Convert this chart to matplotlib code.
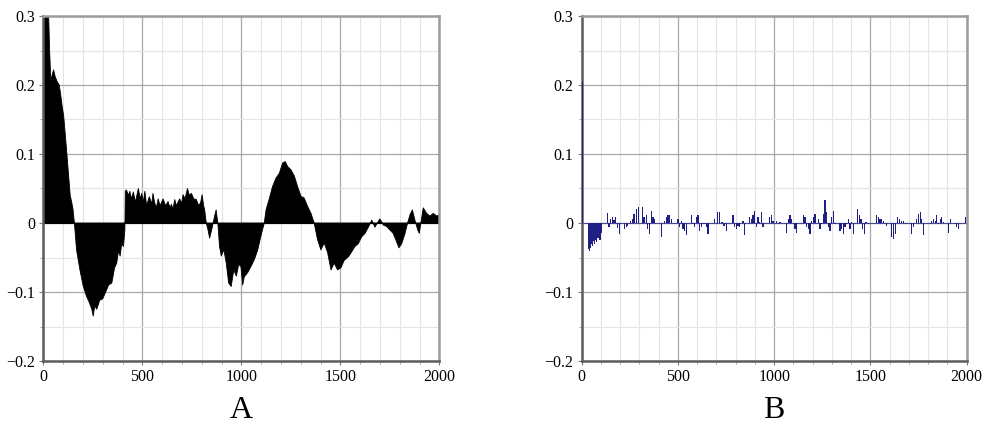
import matplotlib
matplotlib.use("Agg")
import matplotlib.pyplot as plt
from matplotlib.ticker import MultipleLocator, FixedLocator, FixedFormatter

# ---------------- data ----------------
panel_labels = ["A", "B"]
x_ticks = [0, 500, 1000, 1500, 2000]
x_tick_labels = ["0", "500", "1000", "1500", "2000"]
y_ticks = [-0.2, -0.1, 0.0, 0.1, 0.2, 0.3]
y_tick_labels = ["\u22120.2", "\u22120.1", "0", "0.1", "0.2", "0.3"]

# Panel A: autocorrelation (filled area)
lags_a = [
    0, 5, 10, 20, 27, 32, 38, 45, 52, 60,
    70, 80, 86, 95, 103, 112, 120, 128, 136, 145,
    150, 157, 168, 185, 202, 218, 232, 245, 252, 260,
    270, 285, 300, 315, 330, 346, 360, 371, 380, 388,
    396, 405, 412, 414, 420, 430, 437, 445, 455, 465,
    480, 490, 497, 505, 513, 522, 535, 548, 554, 562,
    571, 580, 590, 605, 618, 630, 640, 647, 655, 664,
    672, 680, 689, 698, 706, 716, 728, 738, 748, 760,
    773, 785, 795, 802, 810, 815, 823, 832, 840, 852,
    865, 873, 882, 890, 899, 912, 924, 936, 949, 962,
    975, 987, 998, 1007, 1015, 1032, 1049, 1066, 1083, 1099,
    1116, 1125, 1142, 1158, 1175, 1192, 1209, 1222, 1234, 1251,
    1268, 1284, 1301, 1318, 1335, 1352, 1368, 1385, 1402, 1419,
    1436, 1453, 1469, 1486, 1503, 1520, 1541, 1557, 1574, 1591,
    1608, 1625, 1642, 1659, 1675, 1700, 1717, 1734, 1750, 1767,
    1784, 1796, 1810, 1827, 1840, 1852, 1864, 1877, 1891, 1899,
    1907, 1919, 1936, 1953, 1970, 1987, 2000,
]
acf_a = [
    1.0, 0.6, 0.42, 0.33, 0.30, 0.25, 0.205, 0.215, 0.222, 0.212,
    0.205, 0.20, 0.19, 0.17, 0.155, 0.125, 0.097, 0.068, 0.04, 0.028,
    0.02, 0.0, -0.039, -0.068, -0.092, -0.106, -0.115, -0.125, -0.135, -0.12,
    -0.125, -0.112, -0.11, -0.1, -0.09, -0.087, -0.065, -0.058, -0.04, -0.048,
    -0.03, -0.034, -0.01, 0.046, 0.048, 0.04, 0.046, 0.035, 0.045, 0.03,
    0.05, 0.035, 0.043, 0.03, 0.046, 0.025, 0.038, 0.028, 0.043, 0.03,
    0.022, 0.035, 0.025, 0.035, 0.025, 0.031, 0.022, 0.027, 0.02, 0.034,
    0.025, 0.03, 0.035, 0.028, 0.041, 0.035, 0.05, 0.04, 0.043, 0.035,
    0.034, 0.025, 0.03, 0.041, 0.025, 0.019, 0.0, -0.01, -0.022, -0.008,
    0.01, 0.019, -0.002, -0.034, -0.048, -0.039, -0.058, -0.087, -0.092, -0.068,
    -0.077, -0.06, -0.063, -0.09, -0.078, -0.072, -0.063, -0.053, -0.039, -0.019,
    0.0, 0.019, 0.036, 0.053, 0.065, 0.072, 0.087, 0.089, 0.082, 0.077,
    0.068, 0.053, 0.039, 0.036, 0.024, 0.014, 0.0, -0.024, -0.039, -0.029,
    -0.043, -0.068, -0.058, -0.068, -0.065, -0.054, -0.049, -0.042, -0.034, -0.03,
    -0.02, -0.015, -0.006, 0.004, -0.006, 0.006, -0.003, -0.005, -0.01, -0.015,
    -0.027, -0.036, -0.03, -0.015, 0.0, 0.012, 0.019, 0.004, -0.01, -0.015,
    0.0, 0.022, 0.014, 0.01, 0.014, 0.01, 0.012,
]

# Panel B: partial autocorrelation (bars)
lags_b = [
    3, 35, 40, 45, 50, 55, 60, 65, 70, 75,
    80, 85, 90, 95, 100,
    133, 142, 150, 159, 168, 176, 185, 197, 223, 232,
    240, 254, 263, 272, 284, 296, 318, 324, 336, 344,
    353, 362, 370, 379, 414, 428, 440, 448, 457, 465,
    500, 509, 518, 526, 535, 544, 570, 578, 587, 595,
    604, 613, 621, 635, 647, 656, 691, 705, 717, 729,
    739, 751, 786, 795, 803, 812, 820, 838, 846, 872,
    881, 890, 899, 907, 916, 925, 933, 942, 977, 985,
    994,
    1013, 1022, 1030, 1065, 1074, 1082, 1091, 1108, 1117, 1152,
    1160, 1169, 1177, 1186, 1195, 1204, 1212, 1230, 1238, 1247,
    1256, 1264, 1273, 1282, 1290, 1299, 1308, 1316, 1342, 1351,
    1360, 1368, 1377, 1386, 1394, 1403, 1412, 1434, 1443, 1451,
    1460, 1469, 1477, 1490, 1533, 1541, 1550, 1559, 1567, 1585,
    1611, 1619, 1631, 1641, 1653, 1662, 1671, 1680, 1714, 1723,
    1740, 1749, 1758, 1766, 1775, 1810, 1818, 1827, 1836, 1844,
    1853, 1862, 1870, 1879, 1905, 1914, 1940, 1948, 1957, 1992,
]
pacf_b = [
    0.205, -0.038, -0.04, -0.036, -0.03, -0.034, -0.026, -0.031, -0.025, -0.027,
    -0.02, -0.022, -0.021, -0.024, -0.014,
    0.014, -0.006, 0.006, 0.009, 0.004, 0.008, -0.007, -0.016, -0.009, -0.006,
    -0.004, 0.003, 0.006, 0.013, 0.02, 0.023, 0.023, 0.008, 0.011, -0.009,
    -0.016, 0.018, 0.008, 0.006, -0.021, 0.003, 0.008, 0.011, 0.011, 0.006,
    0.006, -0.006, 0.003, -0.009, -0.011, -0.018, 0.011, -0.001, -0.006, 0.008,
    0.011, -0.011, -0.006, -0.001, -0.006, -0.016, 0.006, 0.016, 0.016, 0.001,
    -0.004, -0.011, 0.011, -0.006, -0.009, -0.004, -0.006, 0.003, -0.018, 0.008,
    0.006, 0.011, 0.018, -0.006, 0.008, 0.001, 0.016, -0.006, 0.008, 0.011,
    0.003,
    0.003, -0.001, 0.001, -0.014, 0.006, 0.011, 0.006, -0.009, -0.014, 0.011,
    0.008, -0.006, -0.009, -0.016, 0.003, 0.008, 0.013, 0.006, -0.009, -0.001,
    0.013, 0.033, 0.016, -0.006, -0.011, 0.008, 0.018, -0.001, -0.011, -0.009,
    -0.016, -0.006, -0.001, 0.006, -0.009, 0.001, -0.016, 0.02, 0.011, 0.006,
    -0.009, -0.016, 0.001, -0.001, 0.011, 0.008, 0.006, 0.006, 0.003, -0.004,
    -0.021, -0.023, -0.016, 0.008, 0.006, 0.003, 0.003, -0.001, -0.016, -0.006,
    0.006, 0.013, 0.016, 0.006, -0.018, -0.001, 0.003, 0.006, 0.003, 0.011,
    -0.001, 0.006, 0.008, 0.001, -0.014, 0.006, -0.001, -0.006, -0.009, 0.008,
]

# ---------------- figure ----------------
plt.rcParams["font.family"] = ["Liberation Serif", "DejaVu Serif"]
fig = plt.figure(figsize=(9.84, 4.32), dpi=100)

bottom = 1 - 361 / 432
height = 345 / 432
ax_a = fig.add_axes([43.3 / 984, bottom, 396 / 984, height])
ax_b = fig.add_axes([581.7 / 984, bottom, 385 / 984, height])


def style(ax):
    ax.set_xlim(0, 2000)
    ax.set_ylim(-0.2, 0.3)
    ax.xaxis.set_major_locator(FixedLocator(x_ticks))
    ax.xaxis.set_major_formatter(FixedFormatter(x_tick_labels))
    ax.yaxis.set_major_locator(FixedLocator(y_ticks))
    ax.yaxis.set_major_formatter(FixedFormatter(y_tick_labels))
    ax.xaxis.set_minor_locator(MultipleLocator(100))
    ax.yaxis.set_minor_locator(MultipleLocator(0.05))
    ax.grid(which="major", color="#a9a9a9", linewidth=0.9, zorder=0)
    ax.grid(which="minor", color="#e4e4e4", linewidth=0.8, zorder=0)
    ax.set_axisbelow(True)
    ax.tick_params(which="major", labelsize=11.5, length=3, width=0.8,
                   color="#777777", pad=3)
    ax.tick_params(which="minor", length=2, width=0.6, color="#999999")
    for side in ("left", "bottom"):
        ax.spines[side].set_color("#5c5c5c")
        ax.spines[side].set_linewidth(1.8)
    for side in ("top", "right"):
        ax.spines[side].set_color("#9c9c9c")
        ax.spines[side].set_linewidth(1.8)


style(ax_a)
ax_a.fill_between(lags_a, acf_a, 0, color="black", linewidth=0.6,
                  edgecolor="black", zorder=2)
ax_a.axhline(0, color="black", linewidth=0.8, zorder=2)

style(ax_b)
ax_b.axhline(0, color="#4b4b95", linewidth=0.8, zorder=2)
ax_b.bar(lags_b, pacf_b, width=6, color="#1f1f84", linewidth=0, zorder=3)

for ax, lab in zip((ax_a, ax_b), panel_labels):
    pos = ax.get_position()
    fig.text((pos.x0 + pos.x1) / 2, 1 - 410 / 432, lab, ha="center",
             va="center", fontsize=23)

fig.savefig("out.png", dpi=100)
